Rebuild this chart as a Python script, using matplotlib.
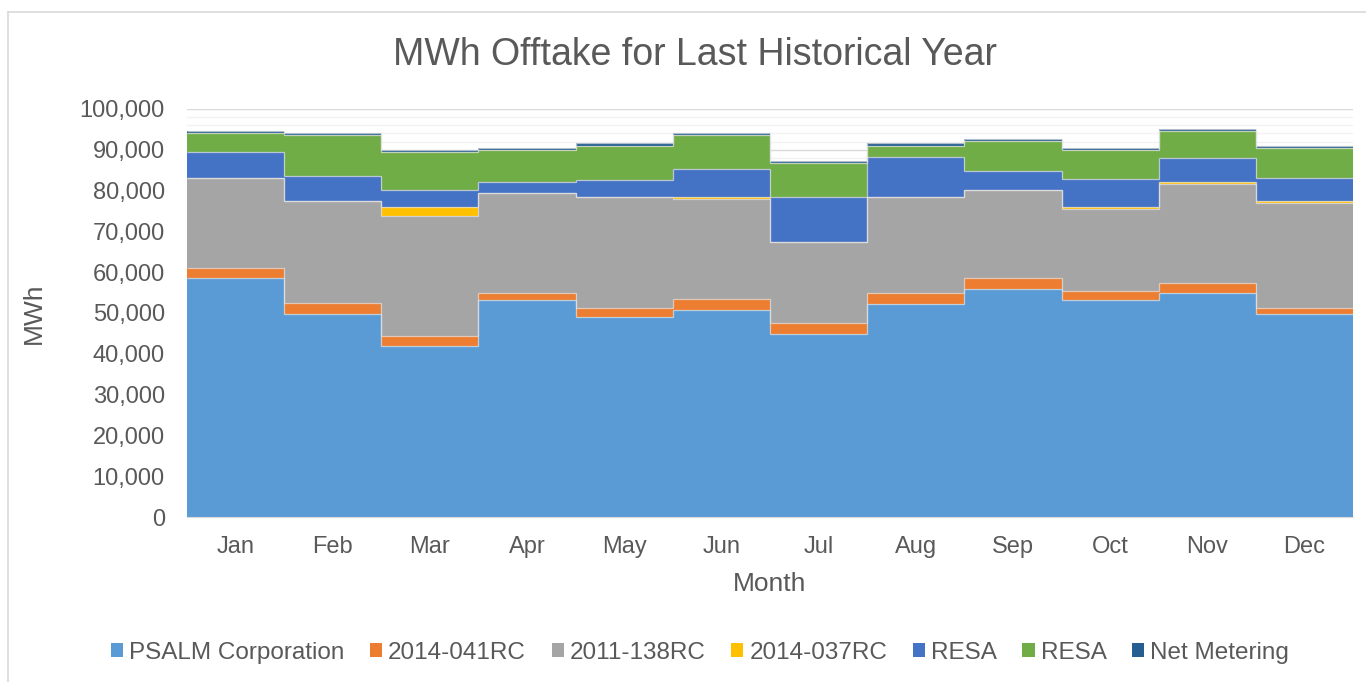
import matplotlib
matplotlib.use("Agg")
import matplotlib.pyplot as plt
from matplotlib.lines import Line2D
from matplotlib.patches import Patch
from matplotlib.ticker import MultipleLocator, FuncFormatter
import numpy as np

plt.rcParams['font.family'] = ['Liberation Sans', 'DejaVu Sans']

months = ["Jan", "Feb", "Mar", "Apr", "May", "Jun", "Jul", "Aug", "Sep", "Oct", "Nov", "Dec"]
series_names = ["PSALM Corporation", "2014-041RC", "2011-138RC", "2014-037RC", "RESA", "RESA", "Net Metering"]
colors = ["#5B9BD5", "#ED7D31", "#A5A5A5", "#FFC000", "#4472C4", "#70AD47", "#255E91"]

psalm = [58500, 49700, 41800, 53300, 49100, 50650, 44900, 52300, 55900, 53250, 54900, 49700]
rc_2014_041 = [2600, 2700, 2600, 1600, 2100, 2700, 2700, 2600, 2700, 2150, 2500, 1550]
rc_2011_138 = [22100, 25050, 29300, 24600, 27200, 24500, 19850, 23550, 21550, 20050, 24100, 25650]
rc_2014_037 = [0, 0, 2200, 0, 0, 570, 0, 0, 0, 500, 500, 500]
resa_blue = [6200, 6250, 4200, 2600, 4200, 6800, 10950, 9870, 4600, 6800, 5900, 5800]
resa_green = [4700, 9900, 9400, 7850, 8400, 8400, 8400, 2700, 7350, 7200, 6800, 7250]
net_metering = [500, 500, 500, 500, 550, 500, 500, 570, 500, 500, 500, 500]

series = [psalm, rc_2014_041, rc_2011_138, rc_2014_037, resa_blue, resa_green, net_metering]

fig = plt.figure(figsize=(13.66, 6.82), dpi=100)
ax = fig.add_axes([187/1366, 1-517/682, (1353-187)/1366, (517-109)/682])

n = len(months)
edges = np.arange(n + 1) - 0.5
bottom = np.zeros(n)
handles = []
for name, vals, c in zip(series_names, series, colors):
    vals = np.array(vals, dtype=float)
    top = bottom + vals
    ax.stairs(top, edges, baseline=bottom, fill=True, color=c, linewidth=0, zorder=3)
    ax.stairs(top, edges, baseline=None, fill=False, color=(0.88, 0.88, 0.88, 0.75),
              linewidth=0.9, zorder=4)
    handles.append(Patch(facecolor=c, edgecolor='none'))
    bottom = top

ax.set_xlim(-0.5, n - 0.5)
ax.set_ylim(0, 100000)
ax.yaxis.set_major_locator(MultipleLocator(10000))
ax.yaxis.set_minor_locator(MultipleLocator(2000))
ax.yaxis.set_major_formatter(FuncFormatter(lambda v, p: f"{int(v):,}"))
ax.grid(axis='y', which='major', color='#D9D9D9', linewidth=1.0, zorder=0)
ax.grid(axis='y', which='minor', color='#F2F2F2', linewidth=1.0, zorder=0)
ax.set_axisbelow(True)
ax.set_xticks(np.arange(n))
ax.set_xticklabels(months)
for s in ['top', 'right', 'left']:
    ax.spines[s].set_visible(False)
ax.spines['bottom'].set_color('#D9D9D9')
ax.spines['bottom'].set_zorder(5)
ax.tick_params(axis='both', which='both', length=0, labelsize=17, colors='#595959')
ax.tick_params(axis='y', pad=16)
ax.tick_params(axis='x', pad=14)

ax.set_xlabel("Month", fontsize=19, color='#595959', labelpad=10)
ax.set_ylabel("MWh", fontsize=19, color='#595959', labelpad=24)

fig.text(695/1366, 1-55/682, "MWh Offtake for Last Historical Year", ha='center', va='center',
         fontsize=27, color='#595959')

leg = fig.legend(handles=handles, labels=series_names, loc='center', ncol=7,
                 bbox_to_anchor=(700/1366, 1-653/682), frameon=False, fontsize=17.5,
                 handlelength=0.5, handleheight=0.5, handletextpad=0.25, columnspacing=1.05,
                 labelcolor='#595959')

# outer chart frame
fig.add_artist(Line2D([7.5/1366, 7.5/1366], [0, 1-12/682], transform=fig.transFigure, color='#D9D9D9', lw=1.2))
fig.add_artist(Line2D([7.5/1366, 1], [1-12/682, 1-12/682], transform=fig.transFigure, color='#D9D9D9', lw=1.2))

fig.savefig("out.png", dpi=100)
